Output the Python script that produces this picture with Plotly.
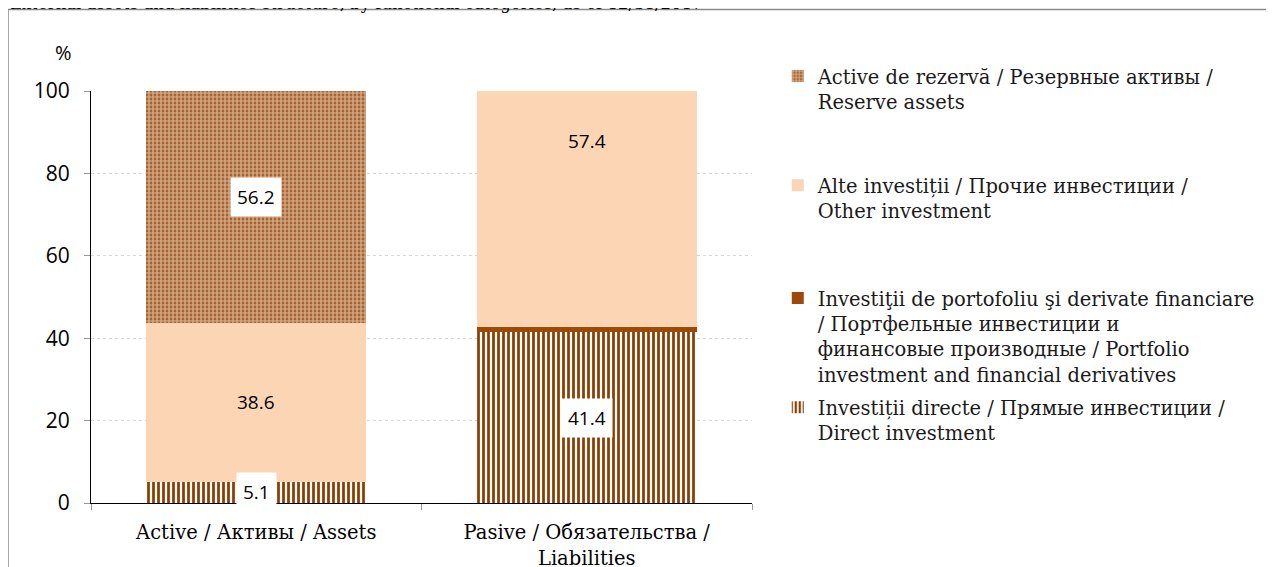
import plotly.graph_objects as go

categories = ["Active / Активы / Assets", "Pasive / Обязательства /<br>Liabilities"]
direct = [5.1, 41.4]
portfolio = [0.1, 1.2]
other = [38.6, 57.4]
reserve = [56.2, 0.0]

names = [
    "Investiții directe / Прямые инвестиции /<br>Direct investment",
    "Investiţii de portofoliu şi derivate financiare<br>/ Портфельные инвестиции и<br>финансовые производные / Portfolio<br>investment and financial derivatives",
    "Alte investiții / Прочие инвестиции /<br>Other investment",
    "Active de rezervă / Резервные активы /<br>Reserve assets",
]

BROWN = "#9C4A08"
DARK_BROWN = "#8C3E00"
PEACH = "#FCD5B5"
SERIF = "DejaVu Serif"
SANS = "Open Sans"

fig = go.Figure()
fig.add_bar(x=categories, y=direct, name=names[0], legend="legend4",
            marker=dict(color="white", line=dict(width=0),
                        pattern=dict(shape="|", fgcolor=DARK_BROWN, bgcolor="white",
                                     fgopacity=1, size=5, solidity=0.55)))
fig.add_bar(x=categories, y=portfolio, name=names[1], legend="legend3",
            marker=dict(color=BROWN, line=dict(width=0)))
fig.add_bar(x=categories, y=other, name=names[2], legend="legend2",
            marker=dict(color=PEACH, line=dict(width=0)))
fig.add_bar(x=categories, y=reserve, name=names[3], legend="legend",
            marker=dict(color=BROWN, line=dict(width=0),
                        pattern=dict(shape=".", fgcolor="white", bgcolor=BROWN,
                                     size=4, solidity=0.7)))

# value labels at the middle of each segment (pixel nudges copy the original placement)
annotations = []
series = [(direct, True, 0), (portfolio, None, 0), (other, False, 0), (reserve, True, 10)]
for i, cat in enumerate(categories):
    base = 0.0
    for vals, boxed, nudge in series:
        v = vals[i]
        if v >= 5:
            shift = 68 if (boxed is False and i == 1) else nudge
            annotations.append(dict(
                x=cat, y=base + v / 2, text=f"{v:.1f}", showarrow=False,
                yshift=shift,
                font=dict(family=SANS, size=19, color="black"),
                bgcolor="white" if boxed else "rgba(0,0,0,0)", borderpad=6))
        base += v

annotations.append(dict(x=-0.057, y=1.131, xref="paper", yref="paper",
                        text="%", showarrow=False,
                        font=dict(family=SANS, size=20, color="black")))
annotations.append(dict(x=-0.1256, y=1.184, xref="paper", yref="paper",
                        xanchor="left", yanchor="bottom", showarrow=False,
                        text="External assets and liabilities structure, by functional categories, as of 12/31/2017",
                        font=dict(family=SERIF, size=16.5, color="black")))

legend_font = dict(family=SERIF, size=19.5, color="#1a1a1a")
leg = dict(x=1.039, xanchor="left", yanchor="top", valign="top",
           font=legend_font, bgcolor="rgba(0,0,0,0)", itemclick=False)

fig.update_layout(
    barmode="stack",
    bargap=0.334,
    width=1274, height=567,
    margin=dict(l=83, r=530, t=83, b=72, autoexpand=False),
    paper_bgcolor="white", plot_bgcolor="white",
    showlegend=True,
    legend=dict(leg, y=1.083),
    legend2=dict(leg, y=0.818),
    legend3=dict(leg, y=0.544),
    legend4=dict(leg, y=0.279),
    annotations=annotations,
    shapes=[dict(type="rect", xref="paper", yref="paper",
                 x0=-0.1256, x1=2.0, y0=-1.0, y1=1.198,
                 line=dict(color="#8a8a8a", width=1.5), fillcolor="rgba(0,0,0,0)",
                 layer="below")],
)

fig.update_yaxes(range=[0, 100], tickvals=[0, 20, 40, 60, 80, 100],
                 showline=True, linecolor="black", linewidth=1,
                 ticks="outside", ticklen=6, tickcolor="#999",
                 ticklabelstandoff=10, automargin=False,
                 showgrid=True, gridcolor="#d6d6d6", griddash="dot", gridwidth=1,
                 zeroline=False,
                 tickfont=dict(family=SANS, size=21, color="black"))
fig.update_xaxes(showline=True, linecolor="black", linewidth=1,
                 ticks="outside", ticklen=6, tickcolor="#999",
                 tickson="boundaries", ticklabelstandoff=12, automargin=False,
                 tickfont=dict(family=SERIF, size=19.5, color="black"))

fig.write_html("out.html")
